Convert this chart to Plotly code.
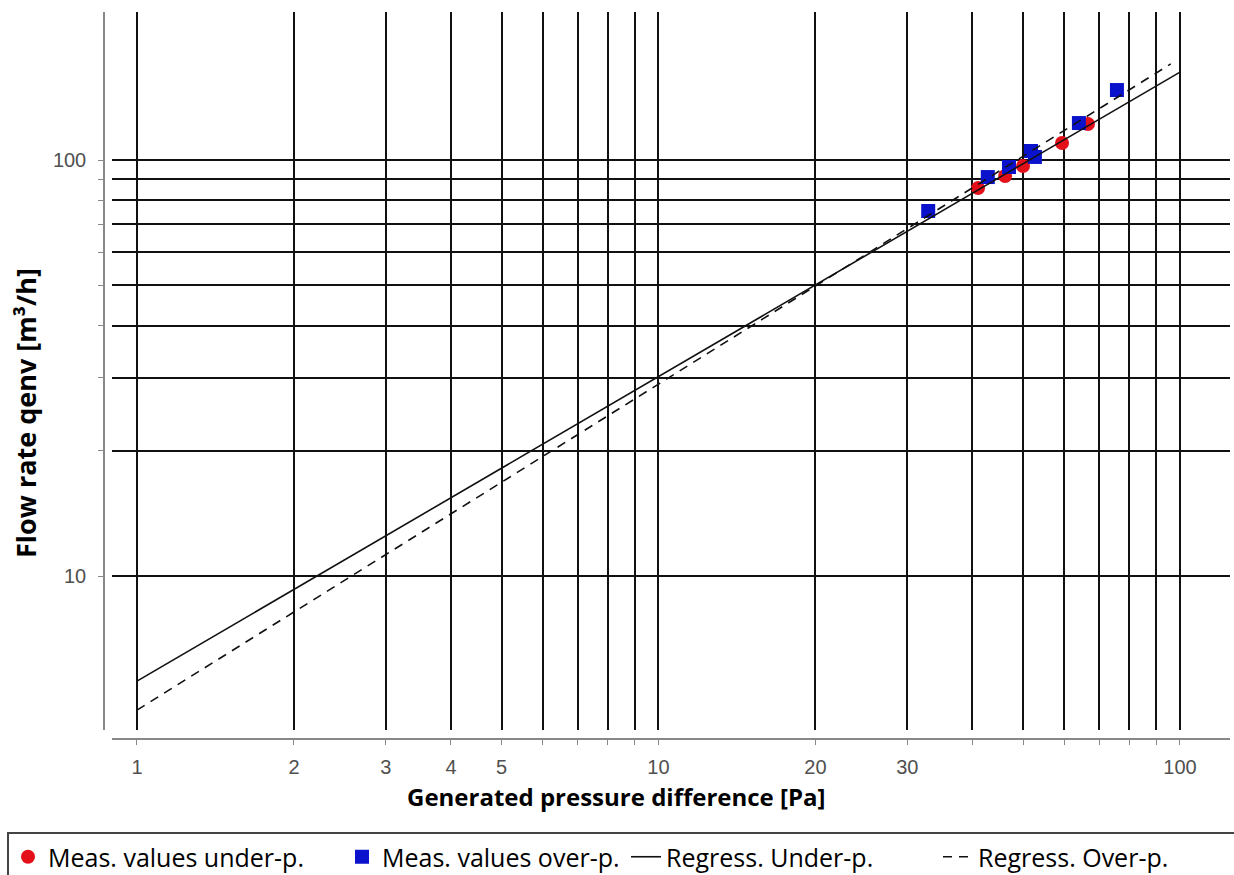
import plotly.graph_objects as go

# ---- data ----
under_dp = [41.0, 46.2, 50.0, 59.4, 66.6]
under_q = [85.6, 91.5, 96.7, 109.9, 122.1]

over_dp = [32.9, 42.8, 47.0, 51.8, 52.7, 64.0, 75.7]
over_q = [75.4, 91.0, 96.2, 105.1, 101.7, 122.7, 147.3]

reg_under_dp = [1, 100]
reg_under_q = [5.59, 162.7]

reg_over_dp = [1, 96]
reg_over_q = [4.76, 170.2]

x_tickvals = [1, 2, 3, 4, 5, 6, 7, 8, 9, 10, 20, 30, 40, 50, 60, 70, 80, 90, 100]
x_ticktext = ["1", "2", "3", "4", "5", "", "", "", "", "10", "20", "30", "", "", "", "", "", "", "100"]
y_tickvals = [10, 20, 30, 40, 50, 60, 70, 80, 90, 100]
y_ticktext = ["10", "", "", "", "", "", "", "", "", "100"]

x_title = "Generated pressure difference [Pa]"
y_title = "Flow rate qenv [m³/h]"

fig = go.Figure()
fig.add_trace(go.Scatter(x=under_dp, y=under_q, mode="markers", name="Meas. values under-p.",
                         legend="legend",
                         marker=dict(symbol="circle", size=14, color="#e3101a")))
fig.add_trace(go.Scatter(x=over_dp, y=over_q, mode="markers", name="Meas. values over-p.",
                         legend="legend2",
                         marker=dict(symbol="square", size=14, color="#0b12cc")))
fig.add_trace(go.Scatter(x=reg_under_dp, y=reg_under_q, mode="lines", name="Regress. Under-p.",
                         legend="legend3",
                         line=dict(color="#111111", width=1.6)))
fig.add_trace(go.Scatter(x=reg_over_dp, y=reg_over_q, mode="lines", name="Regress. Over-p.",
                         legend="legend4",
                         line=dict(color="#111111", width=1.6, dash="9px,7px")))

W, H = 1234, 875
ml, mr, mt, mb = 104, 4, 12, 136
pw = W - ml - mr
ph = H - mt - mb

tickfont = dict(family="Liberation Sans, Arial, sans-serif", size=20, color="#505050")
legfont = dict(family="Open Sans, sans-serif", size=25, color="black")


def leg(text_left_px):
    return dict(
        orientation="h", xref="container", yref="container",
        x=(text_left_px - 42) / W, y=1 - 857 / H, xanchor="left", yanchor="middle",
        font=legfont, bgcolor="rgba(0,0,0,0)", borderwidth=0,
    )


fig.update_layout(
    width=W, height=H, autosize=False,
    margin=dict(l=ml, r=mr, t=mt, b=mb, pad=0, autoexpand=False),
    paper_bgcolor="white", plot_bgcolor="white",
    showlegend=True,
    legend=leg(50), legend2=leg(384), legend3=leg(668), legend4=leg(980),
    xaxis=dict(
        type="log", range=[-0.0479, 2.0959], domain=[8 / pw, 1],
        anchor="free", position=0, automargin=False,
        tickvals=x_tickvals, ticktext=x_ticktext,
        showgrid=True, gridcolor="#111111", gridwidth=1.7,
        showline=True, linecolor="#888888", linewidth=1.5,
        ticks="outside", ticklen=5, tickcolor="#888888", tickwidth=1,
        tickfont=tickfont, ticklabelstandoff=5,
        zeroline=False,
    ),
    yaxis=dict(
        type="log", range=[0.6298, 2.3558], domain=[9 / ph, 1],
        anchor="free", position=0, automargin=False,
        tickvals=y_tickvals, ticktext=y_ticktext,
        showgrid=True, gridcolor="#111111", gridwidth=1.7,
        showline=True, linecolor="#888888", linewidth=1.5,
        ticks="outside", ticklen=5, tickcolor="#888888", tickwidth=1,
        tickfont=tickfont, ticklabelstandoff=8,
        zeroline=False,
    ),
    shapes=[
        # legend frame
        dict(type="rect", xref="paper", yref="paper", layer="below",
             x0=(8 - ml) / pw, x1=(W + 10 - ml) / pw,
             y0=(mt + ph - 833) / ph, y1=(mt + ph - H - 10) / ph,
             line=dict(color="#444444", width=2), fillcolor="white"),
    ],
    annotations=[
        dict(text=x_title, xref="paper", yref="paper",
             x=(616 - ml) / pw, y=-(797 - (mt + ph)) / ph,
             xanchor="center", yanchor="middle", showarrow=False,
             font=dict(family="Open Sans, sans-serif", size=24, color="black", weight="bold")),
        dict(text=y_title, xref="paper", yref="paper",
             x=(25 - ml) / pw, y=(mt + ph - 413) / ph,
             xanchor="center", yanchor="middle", showarrow=False, textangle=-90,
             font=dict(family="Open Sans, sans-serif", size=27, color="black", weight="bold")),
    ],
)

fig.write_html("out.html", config={"displayModeBar": False},
               post_script="document.body.style.margin='0';document.body.style.overflow='hidden';")
